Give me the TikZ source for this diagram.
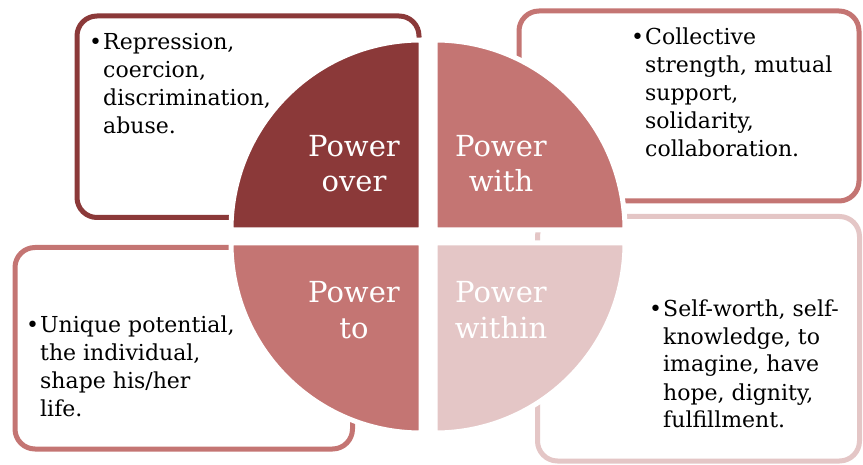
\documentclass[tikz,border=0pt]{standalone}
\usepackage{fontspec}
\setmainfont{DejaVu Serif}
\usepackage{tikz}
\usetikzlibrary{positioning}
\definecolor{rojoOscuro}{RGB}{139, 57, 57}
\definecolor{rojoMedio}{RGB}{196, 117, 115}
\definecolor{rosaClaro}{RGB}{228, 198, 198}
\tikzstyle{caja}    =[rectangle, rounded corners=20pt, line width=5pt,
                      fill=white, inner sep=0pt]
\tikzstyle{cuarto}  =[draw=white, line width=5pt]
% el ancla base cae en la ultima linea
\tikzstyle{lista}   =[anchor=base west, align=left, inner sep=0pt,
                      font=\fontsize{22}{28}\selectfont]
\tikzstyle{etiqueta}=[anchor=base, align=center, inner sep=0pt, text=white,
                      font=\fontsize{29}{35.5}\selectfont]
\newcommand{\pto}{\llap{\textbullet\kern1pt}}

\begin{document}
\begin{tikzpicture}[x=1pt, y=-1pt]
    \useasboundingbox (0,0) rectangle (863,465);

    % cajas
    \node (cajaOver)   [caja, draw=rojoOscuro, minimum width=342, minimum height=201.5] at (248,116.75) {};
    \node (cajaWith)   [caja, draw=rojoMedio,  minimum width=340, minimum height=190]   at (689,106) {};
    \node (cajaTo)     [caja, draw=rojoMedio,  minimum width=337.5, minimum height=201.5] at (183.75,348.25) {};
    \node (cajaWithin) [caja, draw=rosaClaro,  minimum width=322, minimum height=244.5] at (698.5,338.75) {};

    % textos
    \node (txtOver)   [lista] at (103,134) {\pto Repression,\\coercion,\\discrimination,\\abuse.};
    \node (txtWith)   [lista] at (645,157) {\pto Collective\\strength, mutual\\support,\\solidarity,\\collaboration.};
    \node (txtTo)     [lista] at (40,416)  {\pto Unique potential,\\the individual,\\shape his/her\\life.};
    \node (txtWithin) [lista] at (663,428) {\pto Self-worth, self-\\knowledge, to\\imagine, have\\hope, dignity,\\fulfillment.};

    % cuartos del circulo
    \foreach \cx/\cy/\a/\col in {421/230/180/rojoOscuro, 435/230/270/rojoMedio,
                                 435/243/0/rosaClaro, 421/243/90/rojoMedio}
        \filldraw [cuarto, fill=\col] (\cx,\cy) -- ++(\a:190)
            arc[start angle=\a, delta angle=90, radius=190] -- cycle;

    \node (over)   [etiqueta] at (354,192) {Power\\over};
    \node (with)   [etiqueta] at (501,192) {Power\\with};
    \node (to)     [etiqueta] at (354,338) {Power\\to};
    \node (within) [etiqueta] at (501,338) {Power\\within};

\end{tikzpicture}
\end{document}
